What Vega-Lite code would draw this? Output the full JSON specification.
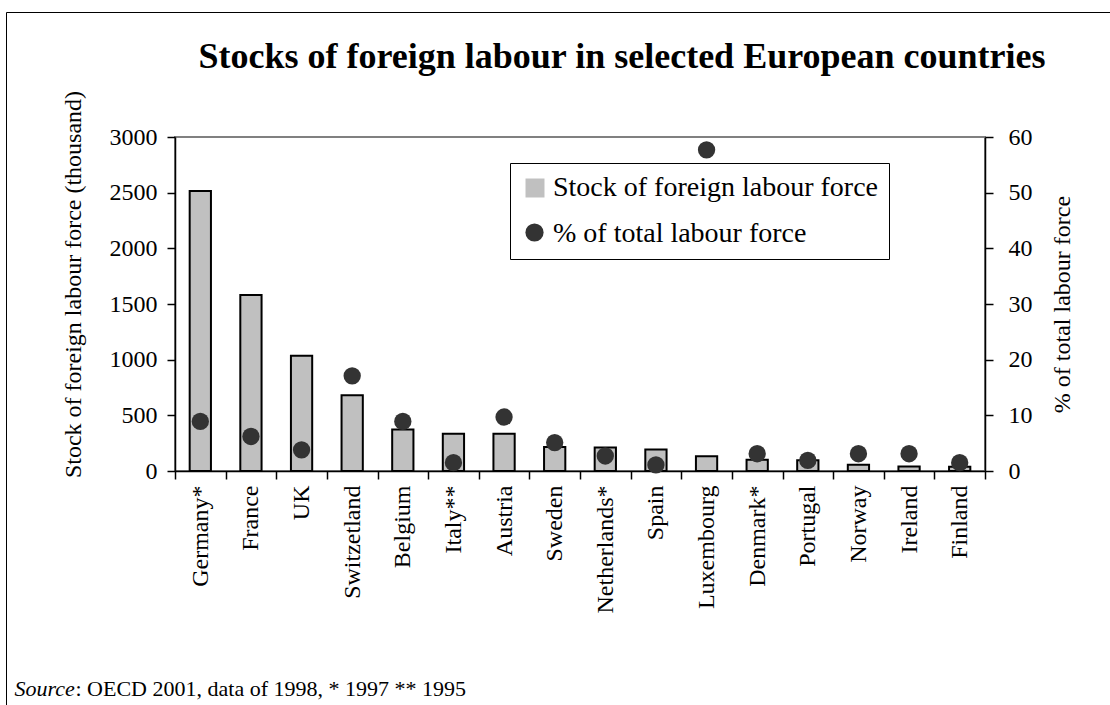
{
  "$schema": "https://vega.github.io/schema/vega-lite/v6.json",
  "autosize": "none",
  "width": 810,
  "height": 334,
  "padding": {"left": 175, "top": 137, "right": 125, "bottom": 234},
  "background": "white",
  "title": {
    "text": "Stocks of foreign labour in selected European countries",
    "font": "Liberation Serif",
    "fontSize": 36,
    "fontWeight": "bold",
    "color": "black",
    "anchor": "middle",
    "frame": "group",
    "baseline": "alphabetic",
    "offset": -92,
    "dx": 42
  },
  "data": {
    "values": [
      {"country": "Germany*", "stock": 2515, "pct": 8.9},
      {"country": "France", "stock": 1580, "pct": 6.2},
      {"country": "UK", "stock": 1035, "pct": 3.8},
      {"country": "Switzetland", "stock": 680, "pct": 17.1},
      {"country": "Belgium", "stock": 372, "pct": 8.9},
      {"country": "Italy**", "stock": 335, "pct": 1.5},
      {"country": "Austria", "stock": 335, "pct": 9.7},
      {"country": "Sweden", "stock": 215, "pct": 5.1},
      {"country": "Netherlands*", "stock": 212, "pct": 2.7},
      {"country": "Spain", "stock": 192, "pct": 1.1},
      {"country": "Luxembourg", "stock": 132, "pct": 57.7},
      {"country": "Denmark*", "stock": 100, "pct": 3.1},
      {"country": "Portugal", "stock": 96, "pct": 1.9},
      {"country": "Norway", "stock": 57, "pct": 3.1},
      {"country": "Ireland", "stock": 40, "pct": 3.1},
      {"country": "Finland", "stock": 38, "pct": 1.5}
    ]
  },
  "layer": [
    {
      "mark": {"type": "bar", "stroke": "black", "strokeWidth": 2, "width": {"band": 0.42}},
      "encoding": {
        "x": {
          "field": "country", "type": "nominal", "sort": null,
          "scale": {"paddingInner": 0, "paddingOuter": 0},
          "axis": {
            "orient": "bottom",
            "labelAngle": -90,
            "labelAlign": "right",
            "labelBaseline": "middle",
            "labelPadding": 6,
            "tickBand": "extent",
            "tickSize": 8,
            "title": ": OECD 2001, data of 1998, * 1997 ** 1995",
            "titleFontSize": 22,
            "titleX": -100,
            "titleY": 224,
            "titleAnchor": "start",
            "titleAlign": "left",
            "titleBaseline": "alphabetic",
            "titleFontStyle": "normal"
          }
        },
        "y": {
          "field": "stock", "type": "quantitative",
          "scale": {"domain": [0, 3000], "nice": false},
          "axis": {
            "orient": "left",
            "values": [0, 500, 1000, 1500, 2000, 2500, 3000],
            "format": "d",
            "tickSize": 8,
            "labelPadding": 10,
            "title": "Stock of foreign labour force (thousand)",
            "titlePadding": 24,
            "titleY": 147
          }
        },
        "fill": {
          "datum": "Stock of foreign labour force",
          "type": "nominal",
          "scale": {
            "domain": ["Stock of foreign labour force", "% of total labour force"],
            "range": ["#c0c0c0", "transparent"]
          },
          "legend": {
            "orient": "none",
            "legendX": 335,
            "legendY": 26,
            "title": null,
            "padding": 11,
            "rowPadding": 18,
            "strokeColor": "black",
            "fillColor": "white",
            "labelFont": "Liberation Serif",
            "labelFontSize": 28,
            "labelColor": "black",
            "labelLimit": 0,
            "labelOffset": 4,
            "symbolType": "square",
            "symbolSize": 360,
            "symbolStrokeColor": "transparent",
            "symbolStrokeWidth": 0
          }
        }
      }
    },
    {
      "mark": {"type": "point", "filled": true, "color": "#333333", "size": 300, "strokeWidth": 0, "opacity": 1},
      "encoding": {
        "x": {
          "field": "country", "type": "nominal", "sort": null,
          "axis": {
            "orient": "bottom",
            "labels": false,
            "ticks": false,
            "domain": false,
            "title": "Source",
            "titleFontSize": 22,
            "titleFontStyle": "italic",
            "titleX": -161,
            "titleY": 224,
            "titleAnchor": "start",
            "titleAlign": "left",
            "titleBaseline": "alphabetic"
          }
        },
        "y": {
          "field": "pct", "type": "quantitative",
          "scale": {"domain": [0, 60], "nice": false},
          "axis": {
            "orient": "right",
            "values": [0, 10, 20, 30, 40, 50, 60],
            "tickSize": 8,
            "labelPadding": 15,
            "title": "% of total labour force",
            "titleAngle": -90,
            "titlePadding": 42
          }
        },
        "shape": {
          "datum": "% of total labour force",
          "type": "nominal",
          "scale": {"domain": ["% of total labour force"], "range": ["circle"]},
          "legend": {
            "orient": "none",
            "legendX": 350,
            "legendY": 86,
            "title": null,
            "padding": 0,
            "symbolSize": 330,
            "symbolFillColor": "#333333",
            "symbolStrokeWidth": 0,
            "labelExpr": "''"
          }
        },
        "opacity": {
          "datum": "frame",
          "type": "nominal",
          "scale": {"domain": ["frame"], "range": [1]},
          "legend": {
            "orient": "none",
            "legendX": -169,
            "legendY": -125,
            "title": null,
            "padding": 700,
            "strokeColor": "black",
            "fillColor": null,
            "symbolSize": 0,
            "symbolStrokeWidth": 0,
            "labelExpr": "''",
            "encode": {
              "legend": {"strokeWidth": {"value": 3}}
            }
          }
        }
      }
    }
  ],
  "resolve": {"scale": {"y": "independent"}, "axis": {"x": "independent"}},
  "config": {
    "view": {"stroke": "#808080", "strokeWidth": 2},
    "axis": {
      "labelFont": "Liberation Serif",
      "labelFontSize": 24,
      "labelColor": "black",
      "titleFont": "Liberation Serif",
      "titleFontSize": 24,
      "titleFontWeight": "normal",
      "titleColor": "black",
      "domainColor": "black",
      "domainWidth": 1.5,
      "tickColor": "black",
      "tickWidth": 1.5,
      "grid": false
    }
  }
}
